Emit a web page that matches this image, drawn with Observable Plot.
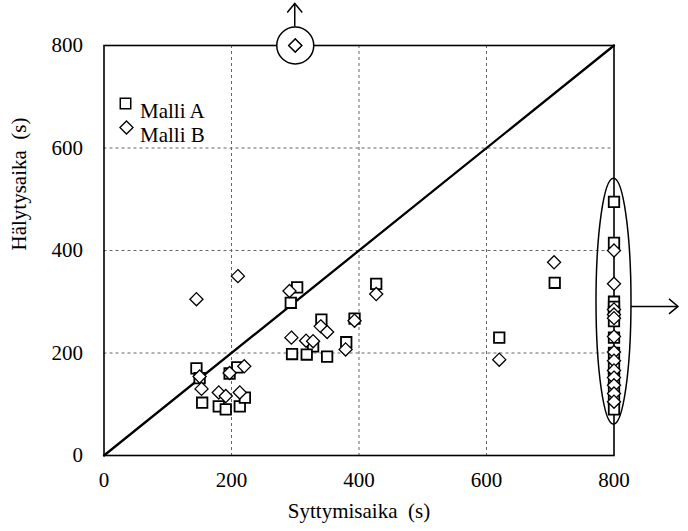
<!DOCTYPE html>
<html>
<head>
<meta charset="utf-8">
<script src="https://cdn.jsdelivr.net/npm/d3@7"></script>
<script src="https://cdn.jsdelivr.net/npm/@observablehq/plot@0.6"></script>
<style>
  html, body { margin: 0; padding: 0; background: #fff; }
</style>
</head>
<body>
<div id="chart"></div>
<script>
// Syttymisaika vs. hälytysaika, two models
const axisTicks = [0, 200, 400, 600, 800];
const gridTicks = [200, 400, 600];
const referenceLine = [0, 800];

const malliAX = [145, 150, 154, 180, 191, 213, 221, 197, 209, 303, 293, 427, 341, 393, 380, 328, 295, 318, 350, 620, 707,
  800, 800, 800, 800, 800, 800, 800, 800, 800, 800, 800, 800, 800];
const malliAY = [170, 151, 103, 96, 90, 96, 113, 160, 172, 328, 298, 335, 265, 267, 221, 213, 198, 197, 193, 230, 337,
  495, 415, 300, 290, 280, 262, 230, 200, 170, 150, 130, 110, 90];

const malliBX = [210, 145, 150, 153, 180, 191, 213, 197, 220, 291, 427, 393, 340, 350, 294, 317, 328, 379, 706, 620, 300,
  800, 800, 800, 800, 800, 800, 800, 800, 800, 800, 800, 800, 800];
const malliBY = [350, 305, 154, 130, 123, 116, 123, 161, 174, 321, 315, 263, 252, 241, 230, 224, 223, 207, 377, 187, 800,
  400, 335, 285, 275, 268, 232, 202, 185, 166, 152, 137, 121, 105];

// point that lies beyond the top of the axis range
const outlierX = [300];
const outlierY = [800];

const legendLabels = ["Malli A", "Malli B"];
const xLabel = "Syttymisaika\u00a0 (s)";
const yLabel = "Hälytysaika\u00a0 (s)";

const malliA = malliAX.map((x, i) => ({x, y: malliAY[i]}));
const malliB = malliBX.map((x, i) => ({x, y: malliBY[i]}));
const outlier = outlierX.map((x, i) => ({x, y: outlierY[i]}));
const diagonal = referenceLine.map(v => ({x: v, y: v}));

const R = 5.9;
const FONT = 21;

const plot = Plot.plot({
  width: 688,
  height: 531,
  marginLeft: 103.5,
  marginRight: 74.5,
  marginTop: 45,
  marginBottom: 76,
  x: {domain: [0, 800]},
  y: {domain: [0, 800]},
  style: {fontFamily: "'Liberation Serif', 'Times New Roman', serif", fontSize: FONT + "px", color: "#000", background: "#fff", overflow: "visible"},
  marks: [
    Plot.gridX(gridTicks, {stroke: "#666", strokeOpacity: 1, strokeWidth: 1, strokeDasharray: "3,3"}),
    Plot.gridY(gridTicks, {stroke: "#666", strokeOpacity: 1, strokeWidth: 1, strokeDasharray: "3,3"}),
    Plot.line(diagonal, {x: "x", y: "y", stroke: "#000", strokeWidth: 2.3}),
    Plot.frame({stroke: "#000", strokeWidth: 1.6}),
    Plot.axisX(axisTicks, {tickSize: 0, tickPadding: 17, fontSize: FONT, label: null}),
    Plot.axisY(axisTicks, {tickSize: 0, tickPadding: 21, fontSize: FONT, label: null}),
    Plot.text([xLabel], {frameAnchor: "bottom", dy: 62, text: d => d, fontSize: FONT}),
    Plot.text([yLabel], {frameAnchor: "left", dx: -85, rotate: -90, text: d => d, fontSize: FONT}),
    // highlight ring around the off-scale point
    Plot.dot(outlier, {x: "x", y: "y", r: 18.5, fill: "#fff", stroke: "#000", strokeWidth: 1.5}),
    Plot.dot(malliA, {x: "x", y: "y", symbol: "square", r: R, fill: "#fff", stroke: "#000", strokeWidth: 1.8}),
    Plot.dot(malliB, {x: "x", y: "y", symbol: "diamond2", r: R, fill: "#fff", stroke: "#000", strokeWidth: 1.3}),
    Plot.dot(outlier, {x: "x", y: "y", symbol: "diamond2", r: R, fill: "#fff", stroke: "#000", strokeWidth: 1.3}),
    // legend
    Plot.dot([legendLabels[0]], {frameAnchor: "top-left", dx: 21.5, dy: 58, symbol: "square", r: R, fill: "#fff", stroke: "#000", strokeWidth: 1.5}),
    Plot.dot([legendLabels[1]], {frameAnchor: "top-left", dx: 22.5, dy: 82, symbol: "diamond2", r: R, fill: "#fff", stroke: "#000", strokeWidth: 1.3}),
    Plot.text([legendLabels[0]], {frameAnchor: "top-left", dx: 36, dy: 58, text: d => d, textAnchor: "start", fontSize: FONT}),
    Plot.text([legendLabels[1]], {frameAnchor: "top-left", dx: 36, dy: 82, text: d => d, textAnchor: "start", fontSize: FONT})
  ]
});

// annotations: arrow above the off-scale point, ellipse and arrow around the x = 800 column
const xs = plot.scale("x");
const ys = plot.scale("y");
const svg = d3.select(plot);
const g = svg.append("g").attr("fill", "none").attr("stroke", "#000").attr("stroke-width", 1.5);

const cx = xs.apply(outlierX[0]);
const cy = ys.apply(outlierY[0]);
const ringTop = cy - 18.5;
g.append("path").attr("d", `M${cx},${ringTop} V${ringTop - 23}`);
g.append("path").attr("d", `M${cx - 7.5},${ringTop - 14} L${cx},${ringTop - 23} L${cx + 7.5},${ringTop - 14}`);

const ex = xs.apply(800);
const ey = ys.apply(300);
const rx = 17.5, ry = 123;
g.append("ellipse").attr("cx", ex).attr("cy", ey).attr("rx", rx).attr("ry", ry);
const ay = ys.apply(290);
g.append("path").attr("d", `M${ex + rx},${ay} H${ex + rx + 47}`);
g.append("path").attr("d", `M${ex + rx + 38},${ay - 7.5} L${ex + rx + 47},${ay} L${ex + rx + 38},${ay + 7.5}`);

document.getElementById("chart").appendChild(plot);
</script>
</body>
</html>
